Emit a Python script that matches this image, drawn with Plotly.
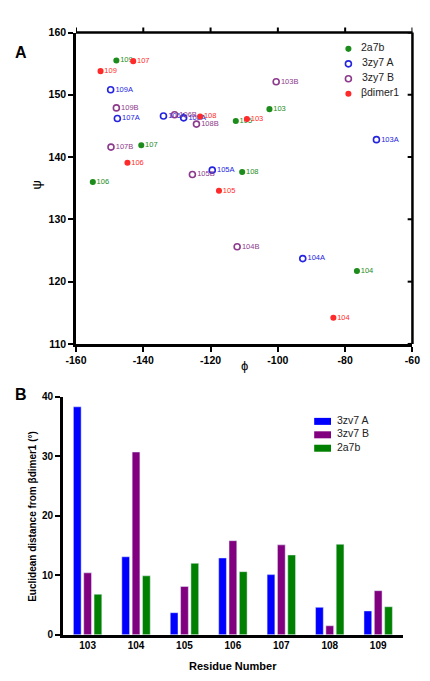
import plotly.graph_objects as go

W, H = 430, 681
FONT = "Arial, Liberation Sans, sans-serif"
LINE = "#000000"

# ---------------- Panel A data (phi, psi) ----------------
g_lbl = ["109", "107", "106", "105", "103", "108", "104"]
g_phi = [-148.0, -140.6, -155.0, -112.5, -102.5, -110.6, -76.5]
g_psi = [155.5, 141.9, 136.0, 145.8, 147.7, 137.6, 121.7]

a_lbl = ["109A", "107A", "106A", "108A", "105A", "103A", "104A"]
a_phi = [-149.7, -147.7, -134.0, -128.0, -119.5, -70.7, -92.6]
a_psi = [150.8, 146.2, 146.6, 146.3, 137.9, 142.8, 123.7]

b_lbl = ["103B", "109B", "107B", "106B", "108B", "105B", "104B"]
b_phi = [-100.5, -148.0, -149.6, -130.7, -124.2, -125.4, -112.1]
b_psi = [152.1, 147.9, 141.6, 146.8, 145.3, 137.2, 125.6]

d_lbl = ["107", "109", "106", "108", "103", "105", "104"]
d_phi = [-143.0, -152.7, -144.7, -123.1, -109.2, -117.5, -83.5]
d_psi = [155.4, 153.8, 139.1, 146.5, 146.1, 134.6, 114.2]

phi_ticks = [-160, -140, -120, -100, -80, -60]
phi_tick_text = ["-160", "-140", "-120", "-100", "-80", "-60"]
psi_ticks = [110, 120, 130, 140, 150, 160]

# ---------------- Panel B data ----------------
residues = ["103", "104", "105", "106", "107", "108", "109"]
dist_a = [38.3, 13.1, 3.7, 12.9, 10.1, 4.6, 4.0]
dist_b = [10.4, 30.7, 8.1, 15.8, 15.1, 1.5, 7.4]
dist_g = [6.8, 9.9, 12.0, 10.6, 13.4, 15.2, 4.7]
dist_ticks = [0, 10, 20, 30, 40]

C_G = "#1c8c1c"
C_A = "#2424e0"
C_B = "#8c3a8c"
C_D = "#ff2a2a"
BAR_A, BAR_B, BAR_G = "#0000ff", "#800080", "#008000"

fig = go.Figure()

scatter_sets = [
    ("2a7b", g_phi, g_psi, g_lbl, C_G, False),
    ("3zy7 A", a_phi, a_psi, a_lbl, C_A, True),
    ("3zy7 B", b_phi, b_psi, b_lbl, C_B, True),
    ("βdimer1", d_phi, d_psi, d_lbl, C_D, False),
]

def mk(color, open_marker):
    return dict(symbol="circle-open" if open_marker else "circle",
                size=6 if open_marker else 4.5, color=color,
                line=dict(width=1.6, color=color))

for name, xs, ys, lbls, color, op in scatter_sets:
    fig.add_trace(go.Scatter(x=xs, y=ys, text=lbls, mode="markers+text",
                             textposition="middle right",
                             textfont=dict(size=7.5, color=color, family=FONT),
                             marker=mk(color, op), showlegend=False,
                             xaxis="x", yaxis="y", cliponaxis=False))

# compact legend for panel A (on its own hidden axes)
n = len(scatter_sets)
for i, (name, xs, ys, lbls, color, op) in enumerate(scatter_sets):
    fig.add_trace(go.Scatter(x=[0], y=[n - 1 - i], text=["   " + name],
                             mode="markers+text", textposition="middle right",
                             textfont=dict(size=10.5, color="#222", family=FONT),
                             marker=mk(color, op), showlegend=False,
                             xaxis="x3", yaxis="y3", cliponaxis=False))

bar_sets = [("3zv7 A", dist_a, BAR_A), ("3zv7 B", dist_b, BAR_B), ("2a7b", dist_g, BAR_G)]
for name, vals, color in bar_sets:
    fig.add_trace(go.Bar(x=residues, y=vals, name=name, marker_color=color,
                         xaxis="x2", yaxis="y2", showlegend=False))

# compact legend for panel B
m = len(bar_sets)
for i, (name, vals, color) in enumerate(bar_sets):
    fig.add_trace(go.Scatter(x=[0], y=[m - 1 - i], text=["  " + name], mode="markers+text",
                             textposition="middle right",
                             textfont=dict(size=10.5, color="#222", family=FONT),
                             marker=dict(symbol="line-ew", size=12,
                                         line=dict(width=7, color=color)),
                             showlegend=False, xaxis="x5", yaxis="y5", cliponaxis=False))

def px2x(p):
    return p / W

def py2y(p):
    return 1 - p / H

tickfont = dict(family=FONT, size=10.5, color=LINE, weight="bold")
ax_common = dict(showgrid=False, zeroline=False, showline=True, linecolor=LINE,
                 linewidth=2.5, ticks="outside", ticklen=5, tickwidth=2, tickcolor=LINE,
                 tickfont=tickfont)
hidden = dict(visible=False, showgrid=False, zeroline=False, fixedrange=True)

A_X0, A_X1, A_Y0, A_Y1 = 68, 420, 344, 27   # panel A plot area in pixels

fig.update_layout(
    width=W, height=H, margin=dict(l=0, r=0, t=0, b=0),
    paper_bgcolor="white", plot_bgcolor="white",
    font=dict(family=FONT, color=LINE),
    showlegend=False,
    barmode="group", bargap=0.36, bargroupgap=0.25,
    xaxis=dict(domain=[px2x(A_X0), px2x(A_X1)], anchor="y", range=[-160, -60],
               tickvals=phi_ticks, ticktext=phi_tick_text, **ax_common),
    yaxis=dict(domain=[py2y(A_Y0), py2y(A_Y1)], anchor="x", range=[110, 160],
               tickvals=psi_ticks, **ax_common),
    xaxis3=dict(domain=[px2x(353), px2x(425)], anchor="y3", range=[0, 14], **hidden),
    yaxis3=dict(domain=[py2y(97), py2y(36)], anchor="x3", range=[-0.5, 3.5], **hidden),
    xaxis2=dict(domain=[px2x(54.3), px2x(410)], anchor="y2", range=[-0.51, 6.51],
                type="category", showgrid=False, zeroline=False, showline=True,
                linecolor=LINE, linewidth=2.5, ticks="",
                tickfont=dict(family=FONT, size=10, color=LINE, weight="bold")),
    yaxis2=dict(domain=[py2y(640), py2y(397.7)], anchor="x2", range=[0, 40],
                tickvals=dist_ticks,
                **{**ax_common, "tickfont": dict(family=FONT, size=10, color=LINE,
                                                 weight="bold")}),
    xaxis5=dict(domain=[px2x(326), px2x(426)], anchor="y5", range=[0, 20], **hidden),
    yaxis5=dict(domain=[py2y(457), py2y(416)], anchor="x5", range=[-0.5, 2.5], **hidden),
)

# frame of panel A: top and right lines, with outward top ticks and inward right ticks
plot_w = A_X1 - A_X0
plot_h = A_Y0 - A_Y1
tick_len = 5
shapes = [
    dict(type="line", xref="x domain", yref="y domain", x0=0, x1=1, y0=1, y1=1,
         line=dict(color=LINE, width=2.5)),
    dict(type="line", xref="x domain", yref="y domain", x0=1, x1=1, y0=0, y1=1,
         line=dict(color=LINE, width=2.5)),
]
for t in phi_ticks:
    shapes.append(dict(type="line", xref="x", yref="y domain", x0=t, x1=t,
                       y0=1, y1=1 + tick_len / plot_h, line=dict(color=LINE, width=2)))
for t in psi_ticks:
    shapes.append(dict(type="line", xref="x domain", yref="y", x0=1 - tick_len / plot_w,
                       x1=1, y0=t, y1=t, line=dict(color=LINE, width=2)))
fig.update_layout(shapes=shapes)

ann = [
    dict(text="<b>A</b>", x=px2x(2), y=py2y(47), xanchor="left", yanchor="middle",
         font=dict(size=16)),
    dict(text="<b>B</b>", x=px2x(2), y=py2y(395), xanchor="left", yanchor="middle",
         font=dict(size=16)),
    dict(text="ϕ", x=px2x(244), y=py2y(366), xanchor="center", yanchor="middle",
         font=dict(size=13)),
    dict(text="ψ", x=px2x(27), y=py2y(182), xanchor="center", yanchor="middle",
         textangle=-90, font=dict(size=13)),
    dict(text="<b>Residue Number</b>", x=px2x(232), y=py2y(672), xanchor="center",
         yanchor="middle", font=dict(size=11)),
    dict(text="<b>Euclidean distance from βdimer1 (°)</b>", x=px2x(23), y=py2y(519),
         xanchor="center", yanchor="middle", textangle=-90, font=dict(size=10)),
]
for a in ann:
    a.update(xref="paper", yref="paper", showarrow=False)
    a["font"] = dict(family=FONT, color=LINE, **a["font"])
fig.update_layout(annotations=ann)

fig.write_html("out.html")
